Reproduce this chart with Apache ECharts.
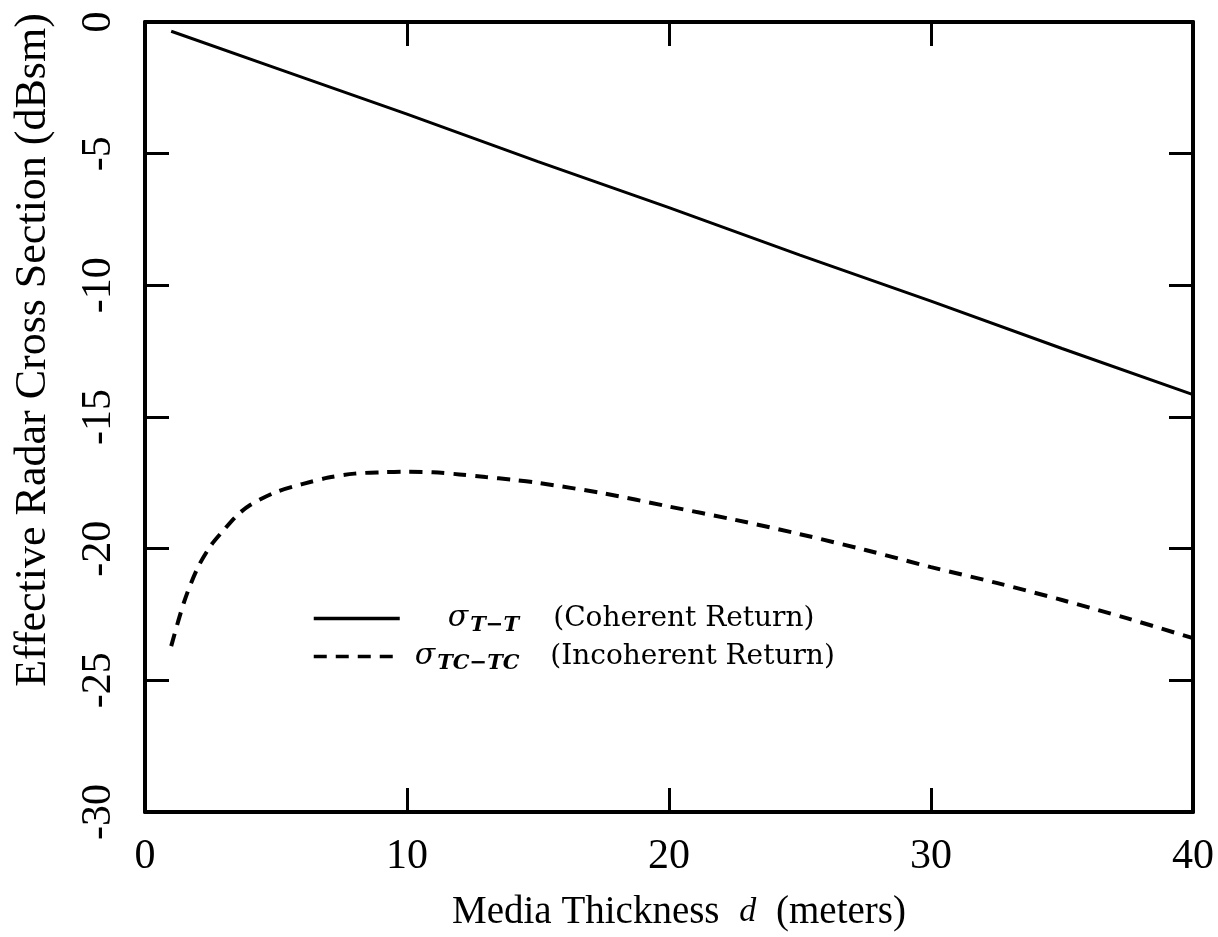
<!DOCTYPE html>
<html>
<head>
<meta charset="utf-8">
<title>Effective Radar Cross Section vs Media Thickness</title>
<script src="https://cdn.jsdelivr.net/npm/echarts@6/dist/echarts.min.js"></script>
<style>
  html, body { margin: 0; padding: 0; background: #fff; }
  #chart { width: 1218px; height: 937px; }
</style>
</head>
<body>
<div id="chart"></div>
<script>
// media thickness d (meters)
const coherentX = [1, 5, 10, 15, 20, 25, 30, 35, 40];
const coherentY = [-0.35, -1.75, -3.5, -5.3, -7.05, -8.85, -10.6, -12.4, -14.15];

const incoherentX = [1, 1.5, 2, 2.5, 3, 3.5, 4, 5, 6, 7, 8, 9, 10, 11, 12, 13, 14, 15,
  17.5, 20, 22.5, 25, 27.5, 30, 32.5, 35, 37.5, 40];
const incoherentY = [-23.7, -22.0, -20.75, -19.9, -19.3, -18.75, -18.35, -17.85, -17.55,
  -17.3, -17.15, -17.1, -17.08, -17.1, -17.18, -17.28, -17.38, -17.5,
  -17.9, -18.4, -18.9, -19.45, -20.05, -20.7, -21.3, -21.95, -22.65, -23.4];

const xTicks = { min: 0, max: 40, interval: 10 };
const yTicks = { min: -30, max: 0, interval: 5 };

const legendLabels = {
  coherent: { key: 'A', sub: 'T\u2212T', text: '(Coherent Return)' },
  incoherent: { key: 'B', sub: 'TC\u2212TC', text: '(Incoherent Return)' }
};

const pairs = (xs, ys) => xs.map((x, i) => [x, ys[i]]);

const serif = '"Liberation Serif", serif';
const dejavu = '"DejaVu Serif", serif';
const black = '#000';

const axisLine = { show: true, onZero: false, lineStyle: { color: black, width: 4 } };
const axisTick = { show: true, inside: true, length: 24, lineStyle: { color: black, width: 3 } };

const chart = echarts.init(document.getElementById('chart'));

chart.setOption({
  backgroundColor: '#fff',
  animation: false,
  grid: { left: 145, right: 25, top: 22, bottom: 124, containLabel: false },
  legend: {
    left: 307,
    top: 596,
    orient: 'vertical',
    itemWidth: 86,
    itemHeight: 22,
    itemGap: 3,
    data: ['coherent', 'incoherent'],
    itemStyle: { opacity: 0 },
    lineStyle: { width: 3.5 },
    formatter: (name) => {
      const l = legendLabels[name];
      return `{pad${l.key}|}{sig|\u03c3}{sub${l.key}|${l.sub}}{txt|${l.text}}`;
    },
    textStyle: {
      color: black,
      rich: {
        padA: { width: 43 },
        padB: { width: 10 },
        sig: { fontFamily: dejavu, fontStyle: 'italic', fontSize: 30, color: black, lineHeight: 34 },
        subA: { width: 73, fontFamily: dejavu, fontStyle: 'italic', fontWeight: 'bold', fontSize: 21, color: black, padding: [14, 0, 0, 2], lineHeight: 34 },
        subB: { width: 103, fontFamily: dejavu, fontStyle: 'italic', fontWeight: 'bold', fontSize: 21, color: black, padding: [14, 0, 0, 2], lineHeight: 34 },
        txt: { fontFamily: dejavu, fontSize: 28, color: black, lineHeight: 34, padding: [0, 0, 0, 10] }
      }
    }
  },
  xAxis: [
    {
      type: 'value',
      position: 'bottom',
      min: xTicks.min, max: xTicks.max, interval: xTicks.interval,
      axisLine, axisTick,
      splitLine: { show: false },
      axisLabel: { color: black, fontFamily: serif, fontSize: 42, margin: 24 },
      name: 'Media Thickness {i|d} (meters)',
      nameLocation: 'middle',
      nameGap: 81,
      nameTextStyle: {
        color: black, fontFamily: serif, fontSize: 39,
        padding: [0, 0, 0, 20],
        rich: {
          i: { fontFamily: serif, fontStyle: 'italic', fontSize: 34, color: black, padding: [0, 10, 0, 10] }
        }
      }
    },
    {
      type: 'value',
      position: 'top',
      min: xTicks.min, max: xTicks.max, interval: xTicks.interval,
      axisLine, axisTick,
      splitLine: { show: false },
      axisLabel: { show: false }
    }
  ],
  yAxis: [
    {
      type: 'value',
      position: 'left',
      min: yTicks.min, max: yTicks.max, interval: yTicks.interval,
      axisLine, axisTick,
      splitLine: { show: false },
      axisLabel: { color: black, fontFamily: serif, fontSize: 42, rotate: 90, margin: 25 }
    },
    {
      type: 'value',
      position: 'right',
      min: yTicks.min, max: yTicks.max, interval: yTicks.interval,
      axisLine, axisTick,
      splitLine: { show: false },
      axisLabel: { show: false }
    }
  ],
  graphic: [
    {
      type: 'text',
      x: 33,
      y: 350,
      rotation: Math.PI / 2,
      style: {
        text: 'Effective Radar Cross Section (dBsm)',
        fill: black,
        font: '44px "Liberation Serif", serif',
        align: 'center',
        verticalAlign: 'middle'
      }
    }
  ],
  series: [
    {
      name: 'coherent',
      type: 'line',
      xAxisIndex: 0,
      yAxisIndex: 0,
      symbol: 'none',
      data: pairs(coherentX, coherentY),
      lineStyle: { color: black, width: 3, type: 'solid' },
      itemStyle: { color: black }
    },
    {
      name: 'incoherent',
      type: 'line',
      xAxisIndex: 0,
      yAxisIndex: 0,
      symbol: 'none',
      smooth: 0.3,
      data: pairs(incoherentX, incoherentY),
      lineStyle: { color: black, width: 4, type: [13, 9] },
      itemStyle: { color: black }
    }
  ]
});
</script>
</body>
</html>
